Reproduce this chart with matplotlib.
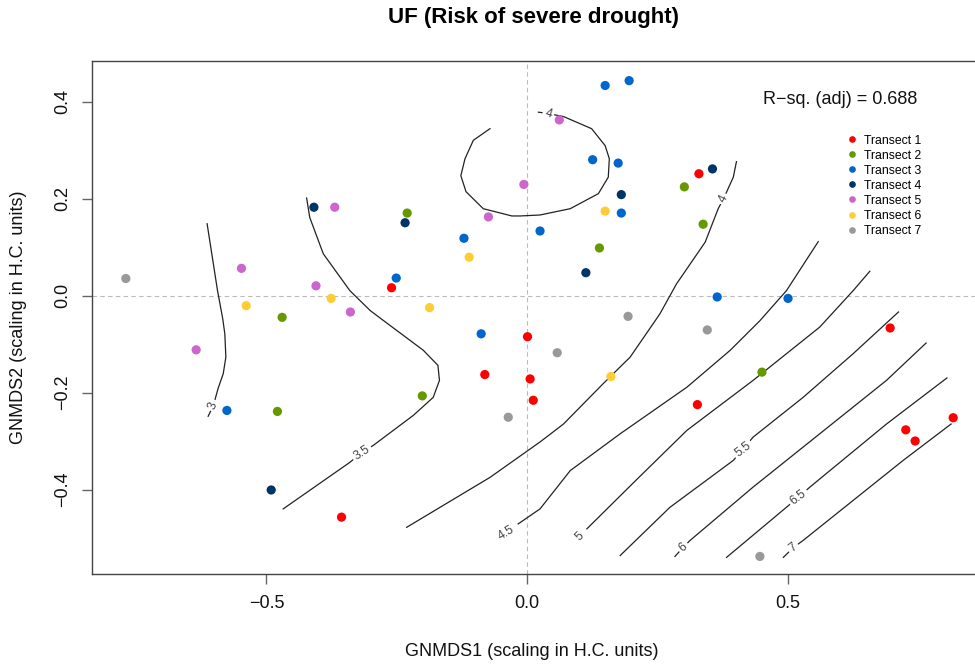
import matplotlib.pyplot as plt
from matplotlib.lines import Line2D

plt.rcParams['font.family'] = ['Liberation Sans', 'DejaVu Sans']

# --- site scores (GNMDS1, GNMDS2) per transect ---
transects = ["Transect 1", "Transect 2", "Transect 3", "Transect 4",
             "Transect 5", "Transect 6", "Transect 7"]
colors = ["#FF0000", "#669900", "#0066CC", "#003366",
          "#CC66CC", "#FFCC33", "#999999"]

t1_x = [-0.260, -0.356, 0.001, -0.081, 0.006, 0.012, 0.330, 0.327, 0.697, 0.818, 0.727, 0.745]
t1_y = [0.016, -0.457, -0.085, -0.163, -0.172, -0.216, 0.251, -0.225, -0.067, -0.252, -0.277, -0.300]
t2_x = [-0.230, -0.470, -0.479, -0.201, 0.302, 0.338, 0.139, 0.451]
t2_y = [0.170, -0.045, -0.239, -0.207, 0.224, 0.147, 0.098, -0.158]
t3_x = [-0.121, -0.251, 0.025, -0.576, -0.088, 0.150, 0.196, 0.126, 0.175, 0.181, 0.365, 0.501]
t3_y = [0.118, 0.036, 0.133, -0.237, -0.079, 0.433, 0.443, 0.280, 0.273, 0.170, -0.003, -0.006]
t4_x = [-0.409, -0.234, -0.491, 0.356, 0.181, 0.113]
t4_y = [0.182, 0.150, -0.401, 0.261, 0.208, 0.047]
t5_x = [-0.548, -0.369, -0.006, -0.074, -0.405, -0.339, -0.635, 0.062]
t5_y = [0.056, 0.182, 0.229, 0.162, 0.020, -0.034, -0.112, 0.362]
t6_x = [-0.111, -0.376, -0.539, -0.187, 0.150, 0.161]
t6_y = [0.079, -0.006, -0.021, -0.025, 0.174, -0.167]
t7_x = [-0.770, -0.036, 0.194, 0.346, 0.058, 0.447]
t7_y = [0.035, -0.251, -0.043, -0.071, -0.118, -0.538]

# --- fitted surface contours (traced) ---
c3_x = [-0.614, -0.594, -0.584, -0.580, -0.578, -0.583, -0.593, -0.602, -0.612]
c3_y = [0.148, 0.010, -0.048, -0.079, -0.127, -0.161, -0.192, -0.227, -0.249]
c35_x = [-0.423, -0.417, -0.391, -0.340, -0.301, -0.280, -0.199, -0.171, -0.168,
         -0.180, -0.218, -0.295, -0.317, -0.340, -0.468]
c35_y = [0.201, 0.161, 0.086, 0.010, -0.031, -0.048, -0.113, -0.144, -0.175,
         -0.210, -0.247, -0.309, -0.324, -0.344, -0.440]
c4a_x = [0.022, 0.041, 0.070, 0.124, 0.150, 0.158, 0.156, 0.137, 0.083, 0.025,
         -0.013, -0.029, -0.084, -0.117, -0.127, -0.119, -0.103, -0.071]
c4a_y = [0.378, 0.375, 0.369, 0.344, 0.309, 0.282, 0.244, 0.210, 0.179, 0.166,
         0.164, 0.164, 0.179, 0.214, 0.247, 0.282, 0.320, 0.344]
c4b_x = [0.402, 0.396, 0.377, 0.367, 0.342, 0.287, 0.255, 0.198, 0.146, 0.070,
         0.025, -0.071, -0.231]
c4b_y = [0.276, 0.244, 0.199, 0.179, 0.110, 0.024, -0.038, -0.127, -0.182, -0.265,
         -0.302, -0.375, -0.478]
c45_x = [0.559, 0.498, 0.447, 0.390, 0.307, 0.179, 0.083, 0.025, -0.017]
c45_y = [0.111, 0.010, -0.052, -0.113, -0.189, -0.285, -0.361, -0.440, -0.471]
c5_x = [0.658, 0.626, 0.562, 0.434, 0.307, 0.211, 0.115]
c5_y = [0.050, 0.010, -0.065, -0.175, -0.278, -0.379, -0.481]
c55_x = [0.713, 0.626, 0.530, 0.434, 0.415, 0.396, 0.274, 0.179]
c55_y = [-0.034, -0.120, -0.210, -0.292, -0.316, -0.340, -0.437, -0.536]
c6_x = [0.766, 0.690, 0.562, 0.434, 0.313, 0.300, 0.284]
c6_y = [-0.098, -0.175, -0.285, -0.395, -0.505, -0.519, -0.538]
c65_x = [0.806, 0.690, 0.543, 0.521, 0.502, 0.383]
c65_y = [-0.170, -0.265, -0.395, -0.416, -0.433, -0.540]
c7_x = [0.814, 0.722, 0.530, 0.511, 0.492]
c7_y = [-0.265, -0.340, -0.505, -0.520, -0.540]

# contour label: text, x, y, angle
clabels = [("3", -0.602, -0.227, 68), ("3.5", -0.317, -0.324, 33),
           ("4", 0.041, 0.375, -15), ("4", 0.377, 0.199, 64),
           ("4.5", -0.040, -0.489, 32), ("5", 0.101, -0.496, 45),
           ("5.5", 0.415, -0.318, 38), ("6", 0.300, -0.519, 40),
           ("6.5", 0.521, -0.416, 38), ("7", 0.511, -0.520, 38)]

W, H = 975, 667
fig = plt.figure(figsize=(W / 100, H / 100), dpi=100)
x0, x1, ytop, ybot = 92.3, 982, 61, 574
ax = fig.add_axes([x0 / W, 1 - ybot / H, (x1 - x0) / W, (ybot - ytop) / H])
ax.set_xlim((x0 - 527) / 521, (x1 - 527) / 521)
ax.set_ylim((295.5 - ybot) / 485, (295.5 - ytop) / 485)

ax.axhline(0, color="#BBBBBB", lw=0.8, ls=(0, (4, 3)), zorder=1)
ax.axvline(0, color="#BBBBBB", lw=0.8, ls=(0, (4, 3)), zorder=1)

for cx, cy in [(c3_x, c3_y), (c35_x, c35_y), (c4a_x, c4a_y), (c4b_x, c4b_y),
               (c45_x, c45_y), (c5_x, c5_y), (c55_x, c55_y), (c6_x, c6_y),
               (c65_x, c65_y), (c7_x, c7_y)]:
    ax.plot(cx, cy, color="#222222", lw=0.9, zorder=2)

for txt, lx, ly, ang in clabels:
    ax.text(lx, ly, txt, fontsize=8.8, color="#444444", rotation=ang,
            rotation_mode="anchor", ha="center", va="center", zorder=3,
            bbox=dict(boxstyle="square,pad=0.2", fc="white", ec="none"))

pts = [(t1_x, t1_y), (t2_x, t2_y), (t3_x, t3_y), (t4_x, t4_y),
       (t5_x, t5_y), (t6_x, t6_y), (t7_x, t7_y)]
for (px, py), c in zip(pts, colors):
    ax.scatter(px, py, s=44, color=c, edgecolors="none", zorder=4)

ax.set_xticks([-0.5, 0.0, 0.5])
ax.set_xticklabels(["\u22120.5", "0.0", "0.5"])
ax.set_yticks([-0.4, -0.2, 0.0, 0.2, 0.4])
ax.set_yticklabels(["\u22120.4", "\u22120.2", "0.0", "0.2", "0.4"],
                   rotation=90, va="center")
ax.tick_params(axis="both", length=7, width=1, color="#666666",
               labelsize=13, pad=8, labelcolor="#111111")
for s in ax.spines.values():
    s.set_color("#444444")
    s.set_linewidth(1.0)

fig.text(532 / W, 1 - 652 / H, "GNMDS1 (scaling in H.C. units)",
         ha="center", va="center", fontsize=13, color="#111111")
fig.text(19 / W, 1 - 317 / H, "GNMDS2 (scaling in H.C. units)",
         ha="center", va="center", rotation=90, fontsize=13, color="#111111")
fig.text(533 / W, 1 - 18 / H, "UF (Risk of severe drought)",
         ha="center", va="center", fontsize=16, fontweight="bold")
fig.text(840 / W, 1 - 100 / H, "R\u2212sq. (adj) = 0.688",
         ha="center", va="center", fontsize=13, color="#111111")

handles = [Line2D([], [], marker="o", ls="", color=c, markersize=4.8,
                  markeredgewidth=0) for c in colors]
fig.legend(handles, transects, loc="upper left",
           bbox_to_anchor=(847.3 / W, 1 - 134.5 / H), frameon=False,
           fontsize=8.8, handlelength=0.8, handletextpad=0.6,
           labelspacing=0.25, borderpad=0, borderaxespad=0)

fig.savefig("out.png", dpi=100)
